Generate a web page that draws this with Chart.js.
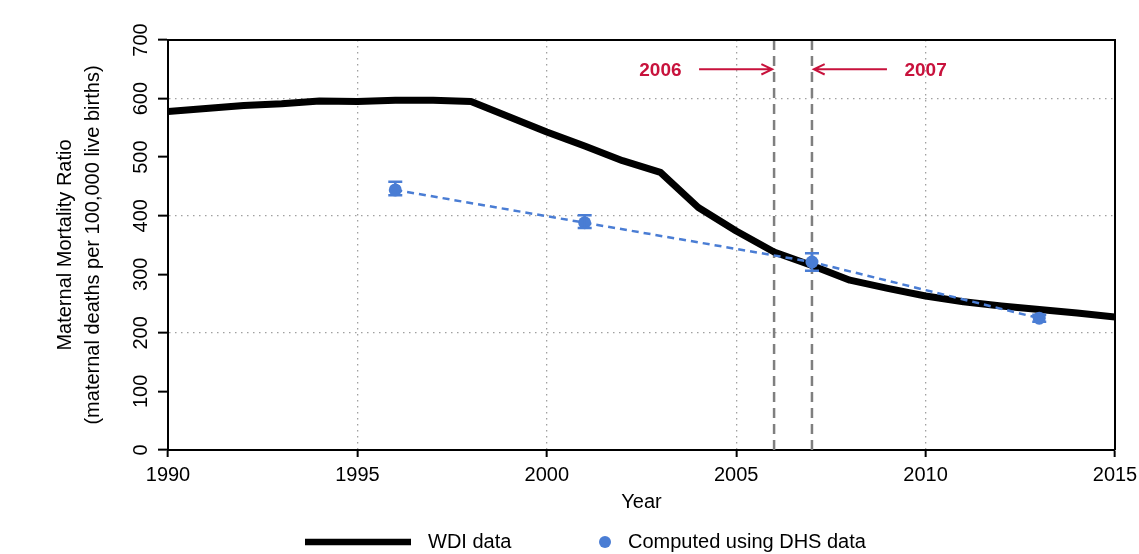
<!DOCTYPE html>
<html>
<head>
<meta charset="utf-8">
<script src="https://cdn.jsdelivr.net/npm/chart.js@4.4.1/dist/chart.umd.min.js"></script>
<style>
html,body{margin:0;padding:0;background:#fff;}
#wrap{width:1139px;height:554px;}
</style>
</head>
<body>
<div id="wrap"><canvas id="c" width="1139" height="554"></canvas></div>
<script>
// ---- data ----
const wdiYears  = [1990,1991,1992,1993,1994,1995,1996,1997,1998,1999,2000,2001,2002,2003,2004,2005,2006,2007,2008,2009,2010,2011,2012,2013,2014,2015];
const wdiValues = [578,583,588,591,596,595,597,597,595,569,543,519,494,474,414,374,338,315,290,276,263,253,246,240,234,227];
const dhsYears  = [1996,2001,2007,2013];
const dhsValues = [444,388,321,225];
const dhsLower  = [435,379,306,219];
const dhsUpper  = [458,401,336,231];
const xTickValues = [1990,1995,2000,2005,2010,2015];
const yTickValues = [0,100,200,300,400,500,600,700];
const xGridValues = [1995,2000,2005,2010];
const yGridValues = [200,400,600];
const markerYears = [2006,2007];
const markerLabels = ['2006','2007'];
const seriesLabels = ['WDI data','Computed using DHS data'];
const yTitleLines = ['Maternal Mortality Ratio','(maternal deaths per 100,000 live births)'];
const xTitleText = 'Year';

const FONT = '"Liberation Sans", Arial, Helvetica, sans-serif';
const BLUE = '#4a7dd4';
const RED = '#c8123c';

const wdiData = wdiYears.map((yr,i)=>({x:yr,y:wdiValues[i]}));
const dhsData = dhsYears.map((yr,i)=>({x:yr,y:dhsValues[i]}));

function arrow(ctx, x1, y1, x2, y2){
  const ang = Math.atan2(y2-y1, x2-x1);
  const hl = 12, ha = Math.PI/7;
  ctx.beginPath();
  ctx.moveTo(x1,y1); ctx.lineTo(x2,y2);
  ctx.moveTo(x2 - hl*Math.cos(ang-ha), y2 - hl*Math.sin(ang-ha));
  ctx.lineTo(x2,y2);
  ctx.lineTo(x2 - hl*Math.cos(ang+ha), y2 - hl*Math.sin(ang+ha));
  ctx.stroke();
}

const decor = {
  id:'decor',
  beforeDatasetsDraw(chart){
    const {ctx, chartArea:a, scales:{x}} = chart;
    ctx.save();
    ctx.strokeStyle = '#7f7f7f';
    ctx.lineWidth = 2.5;
    ctx.setLineDash([10,6]);
    markerYears.forEach(yr=>{
      const px = x.getPixelForValue(yr);
      ctx.beginPath(); ctx.moveTo(px,a.top); ctx.lineTo(px,a.bottom); ctx.stroke();
    });
    ctx.restore();
  },
  afterDatasetsDraw(chart){
    const {ctx, scales:{x,y}} = chart;
    ctx.save();
    ctx.strokeStyle = BLUE;
    ctx.lineWidth = 2.5;
    dhsYears.forEach((yr,i)=>{
      const px = x.getPixelForValue(yr);
      const lo = y.getPixelForValue(dhsLower[i]);
      const hi = y.getPixelForValue(dhsUpper[i]);
      ctx.beginPath();
      ctx.moveTo(px,lo); ctx.lineTo(px,hi);
      ctx.moveTo(px-7,lo); ctx.lineTo(px+7,lo);
      ctx.moveTo(px-7,hi); ctx.lineTo(px+7,hi);
      ctx.stroke();
    });
    ctx.restore();
  },
  afterDraw(chart){
    const {ctx, chartArea:a, scales:{x,y}} = chart;
    ctx.save();
    // top and right frame
    ctx.strokeStyle = '#000'; ctx.lineWidth = 2;
    ctx.beginPath();
    ctx.moveTo(a.left, a.top); ctx.lineTo(a.right, a.top); ctx.lineTo(a.right, a.bottom);
    ctx.stroke();

    // y tick labels (rotated)
    ctx.fillStyle = '#000';
    ctx.font = '20px ' + FONT;
    ctx.textAlign = 'center'; ctx.textBaseline = 'middle';
    yTickValues.forEach(v=>{
      const py = y.getPixelForValue(v);
      ctx.save(); ctx.translate(141, py); ctx.rotate(-Math.PI/2);
      ctx.fillText(String(v), 0, 0);
      ctx.restore();
    });
    // y title
    const cy = (a.top + a.bottom)/2;
    [65, 93].forEach((tx,i)=>{
      ctx.save(); ctx.translate(tx, cy); ctx.rotate(-Math.PI/2);
      ctx.fillText(yTitleLines[i], 0, 0);
      ctx.restore();
    });
    // x title
    ctx.fillText(xTitleText, (a.left+a.right)/2, 502);

    // annotations
    const ay = y.getPixelForValue(650);
    ctx.fillStyle = RED; ctx.strokeStyle = RED; ctx.lineWidth = 2;
    ctx.font = 'bold 19px ' + FONT;
    ctx.fillText(markerLabels[0], x.getPixelForValue(markerYears[0]-3), ay+1);
    arrow(ctx, x.getPixelForValue(markerYears[0]-1.98), ay, x.getPixelForValue(markerYears[0]-0.05), ay);
    ctx.fillText(markerLabels[1], x.getPixelForValue(markerYears[1]+3), ay+1);
    arrow(ctx, x.getPixelForValue(markerYears[1]+1.98), ay, x.getPixelForValue(markerYears[1]+0.05), ay);

    // legend
    const ly = 542;
    ctx.strokeStyle = '#000'; ctx.lineWidth = 6.5; ctx.lineCap = 'butt';
    ctx.beginPath(); ctx.moveTo(305, ly); ctx.lineTo(411, ly); ctx.stroke();
    ctx.fillStyle = '#000'; ctx.font = '20px ' + FONT; ctx.textAlign = 'left';
    ctx.fillText(seriesLabels[0], 428, ly);
    ctx.fillStyle = BLUE;
    ctx.beginPath(); ctx.arc(605, ly, 6, 0, Math.PI*2); ctx.fill();
    ctx.fillStyle = '#000';
    ctx.fillText(seriesLabels[1], 628, ly);
    ctx.restore();
  }
};

new Chart(document.getElementById('c'), {
  type: 'line',
  data: {
    datasets: [
      {
        label: seriesLabels[0],
        data: wdiData,
        borderColor: '#000',
        borderWidth: 7,
        pointRadius: 0,
        tension: 0,
        borderJoinStyle: 'round',
        order: 2
      },
      {
        label: seriesLabels[1],
        data: dhsData,
        borderColor: BLUE,
        borderWidth: 2.5,
        borderDash: [7,5],
        pointRadius: 6.5,
        pointBackgroundColor: BLUE,
        pointBorderColor: BLUE,
        pointBorderWidth: 0,
        tension: 0,
        order: 1
      }
    ]
  },
  options: {
    responsive: false,
    animation: false,
    devicePixelRatio: 1,
    layout: { padding: { left: 0, right: 24, top: 40, bottom: 0 } },
    plugins: { legend: { display: false }, tooltip: { enabled: false } },
    scales: {
      x: {
        type: 'linear',
        min: 1990, max: 2015,
        afterBuildTicks: s => { s.ticks = xTickValues.map(v=>({value:v})); },
        afterFit: s => { s.height = 104; s.paddingLeft = 0; s.paddingRight = 0; },
        ticks: {
          color: '#000',
          font: { size: 20, family: FONT },
          padding: 6,
          maxRotation: 0,
          autoSkip: false,
          callback: v => String(v)
        },
        grid: {
          color: c => (c.tick && xGridValues.includes(c.tick.value)) ? '#a0a0a0' : 'rgba(0,0,0,0)',
          lineWidth: 1.3,
          drawTicks: true,
          tickLength: 7,
          tickColor: '#000',
          tickWidth: 2
        },
        border: { display: true, color: '#000', width: 2, dash: [1.5,4.5] }
      },
      y: {
        type: 'linear',
        min: 0, max: 700,
        afterBuildTicks: s => { s.ticks = yTickValues.map(v=>({value:v})); },
        afterFit: s => { s.width = 168; },
        ticks: { display: false },
        grid: {
          color: c => (c.tick && yGridValues.includes(c.tick.value)) ? '#a0a0a0' : 'rgba(0,0,0,0)',
          lineWidth: 1.3,
          drawTicks: true,
          tickLength: 10,
          tickColor: '#000',
          tickWidth: 2
        },
        border: { display: true, color: '#000', width: 2, dash: [1.5,4.5] }
      }
    }
  },
  plugins: [decor]
});
</script>
</body>
</html>
